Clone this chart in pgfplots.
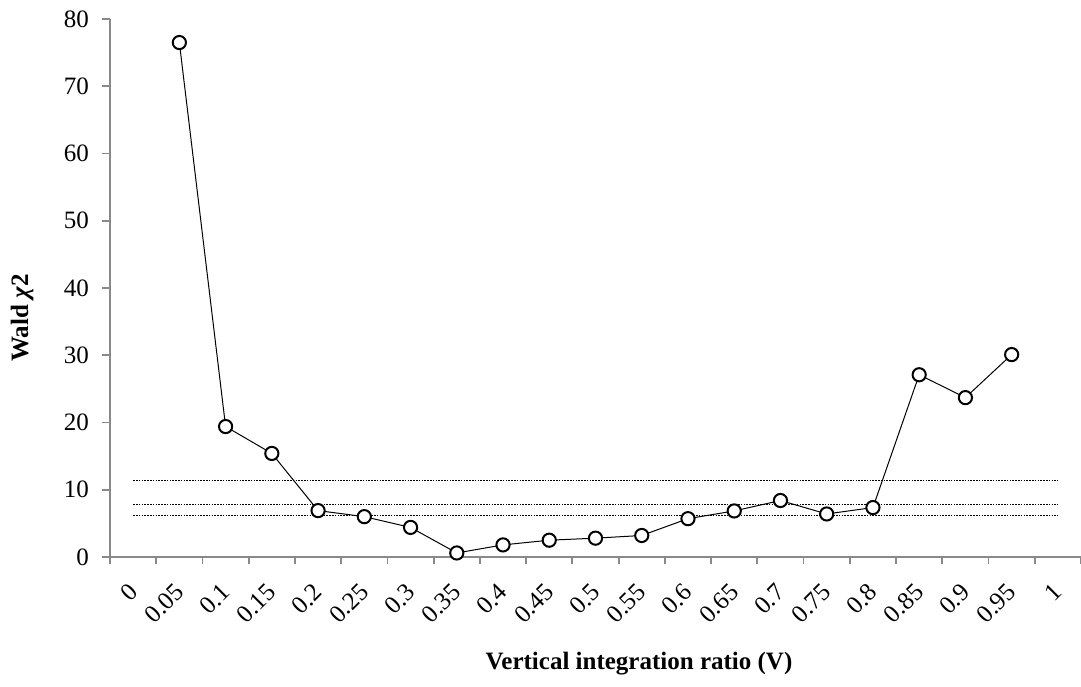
\documentclass[border=0pt]{standalone}
\usepackage{fontspec}
\setmainfont{Liberation Serif}
\usepackage{pgfplots}
\pgfplotsset{compat=1.18}
\definecolor{axgray}{HTML}{898989}
\begin{document}
\begin{tikzpicture}
\useasboundingbox (0,0) rectangle (540.5pt,343pt);
\begin{axis}[
  at={(55pt,64.5pt)}, anchor=south west,
  scale only axis, width=485.5pt, height=269pt,
  xmin=-0.5, xmax=20.5, ymin=0, ymax=80,
  axis x line=bottom, axis y line=left,
  axis line style={-, draw=axgray, line width=0.9pt},
  every tick/.style={draw=axgray, line width=0.9pt},
  tick align=outside,
  xtick={0,...,20},
  xticklabels={0,0.05,0.1,0.15,0.2,0.25,0.3,0.35,0.4,0.45,0.5,0.55,0.6,0.65,0.7,0.75,0.8,0.85,0.9,0.95,1},
  minor xtick={-0.5,0.5,...,20.5},
  major x tick style={draw=none},
  major tick length=4pt,
  minor tick length=3.5pt,
  ytick={0,10,...,80},
  /pgf/number format/assume math mode=true,
  ticklabel style={font=\fontsize{12.5}{15}\selectfont},
  xticklabel style={xshift=2.5pt, yshift=-9pt, rotate=45, anchor=east},
  yticklabel style={xshift=-3pt},
  clip=false,
]
\addplot[black, line width=0.4pt, dash pattern=on 0.8pt off 0.6pt] coordinates {(0,11.345) (20,11.345)};
\addplot[black, line width=0.4pt, dash pattern=on 0.8pt off 0.6pt] coordinates {(0,7.815) (20,7.815)};
\addplot[black, line width=0.4pt, dash pattern=on 0.8pt off 0.6pt] coordinates {(0,6.251) (20,6.251)};
\addplot[black, line width=0.5pt, mark=*, mark size=3.3pt,
  mark options={fill=white, draw=black, line width=1pt}] coordinates {
(1,76.5) (2,19.4) (3,15.4) (4,6.9) (5,6.0) (6,4.4) (7,0.6) (8,1.8) (9,2.5)
(10,2.8) (11,3.2) (12,5.7) (13,6.85) (14,8.4) (15,6.4) (16,7.35) (17,27.1)
(18,23.7) (19,30.1)};
\end{axis}
\node[anchor=base] at (319.5pt,8.5pt) {\fontsize{12.5}{15}\selectfont\bfseries Vertical integration ratio (V)};
\node[rotate=90] at (11pt,184pt) {\fontsize{12.5}{15}\selectfont\bfseries Wald \textit{χ}2};
\end{tikzpicture}
\end{document}
